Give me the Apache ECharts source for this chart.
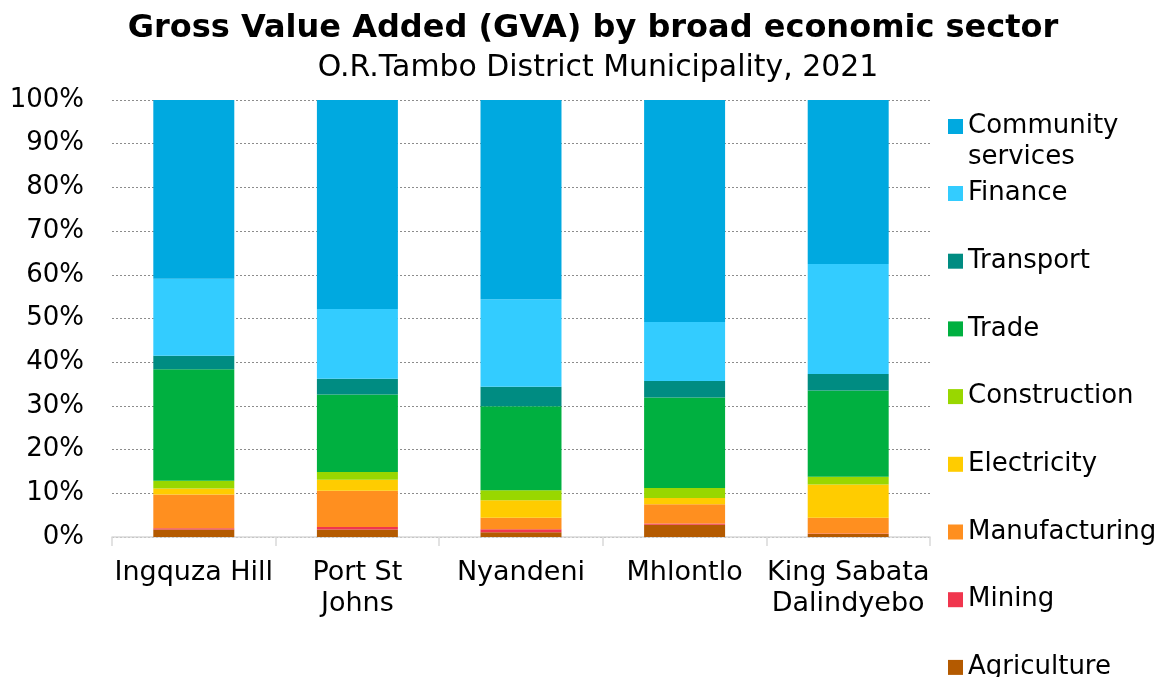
<!DOCTYPE html>
<html>
<head>
<meta charset="utf-8">
<script src="https://cdn.jsdelivr.net/npm/echarts@6/dist/echarts.min.js"></script>
<style>
  html, body { margin: 0; padding: 0; background: #fff; }
  #chart { width: 1160px; height: 677px; }
</style>
</head>
<body>
<div id="chart"></div>
<script>
// municipalities (x axis)
const municipalities = ['Ingquza Hill', 'Port St\nJohns', 'Nyandeni', 'Mhlontlo', 'King Sabata\nDalindyebo'];
const yTicks = [0, 10, 20, 30, 40, 50, 60, 70, 80, 90, 100];

// share of GVA per sector, %, same order as municipalities
const agriculture   = [1.7, 1.7, 1.1, 2.8, 0.7];
const mining        = [0.3, 0.6, 0.7, 0.3, 0.1];
const manufacturing = [7.7, 8.3, 2.6, 4.4, 3.6];
const electricity   = [1.4, 2.5, 4.0, 1.4, 7.6];
const construction  = [1.8, 1.8, 2.3, 2.3, 1.8];
const trade         = [25.5, 17.7, 19.2, 20.7, 19.7];
const transport     = [3.1, 3.6, 4.5, 3.8, 3.8];
const finance       = [17.6, 16.0, 20.0, 13.5, 25.2];
const community     = [40.9, 47.8, 45.6, 50.8, 37.5];

const sectors = [
    {name: 'Agriculture', data: agriculture, color: '#B45A00'},
    {name: 'Mining', data: mining, color: '#F0364E'},
    {name: 'Manufacturing', data: manufacturing, color: '#FF8F1F'},
    {name: 'Electricity', data: electricity, color: '#FFCC00'},
    {name: 'Construction', data: construction, color: '#99D700'},
    {name: 'Trade', data: trade, color: '#00B040'},
    {name: 'Transport', data: transport, color: '#008C82'},
    {name: 'Finance', data: finance, color: '#33CCFF'},
    {name: 'Community services', data: community, color: '#00A9E0'}
];

const font = 'DejaVu Sans, Verdana, sans-serif';
const chart = echarts.init(document.getElementById('chart'), null, {renderer: 'canvas'});

const option = {
    backgroundColor: '#ffffff',
    animation: false,
    title: [
        {
            text: 'Gross Value Added (GVA) by broad economic sector',
            left: 588, top: 6, textAlign: 'center',
            textStyle: {fontFamily: font, fontSize: 32, fontWeight: 'bold', color: '#000', lineHeight: 36}
        },
        {
            text: 'O.R.Tambo District Municipality, 2021',
            left: 593, top: 47, textAlign: 'center',
            textStyle: {fontFamily: font, fontSize: 29.9, fontWeight: 'normal', color: '#000', lineHeight: 32}
        }
    ],
    legend: [
        {
            // two-line entry, first line level with the icon
            orient: 'vertical', left: 948, top: 80, padding: 0,
            itemWidth: 15, itemHeight: 15, icon: 'rect',
            data: ['Community services'],
            formatter: function (n) { return '\n' + n.replace(' ', '\n'); },
            textStyle: {fontFamily: font, fontSize: 26, color: '#000', lineHeight: 31}
        },
        {
            orient: 'vertical', left: 948, top: 178.5, height: 520, padding: 0,
            itemWidth: 15, itemHeight: 15, icon: 'rect', itemGap: 37.7,
            data: ['Finance', 'Transport', 'Trade', 'Construction', 'Electricity', 'Manufacturing', 'Mining', 'Agriculture'],
            textStyle: {fontFamily: font, fontSize: 26, color: '#000', lineHeight: 30}
        }
    ],
    grid: {left: 112, right: 230, top: 100, bottom: 140, containLabel: false},
    xAxis: {
        type: 'category',
        data: municipalities,
        axisLine: {lineStyle: {color: '#d9d9d9', width: 1.5}},
        axisTick: {show: true, length: 9, lineStyle: {color: '#d9d9d9', width: 1.5}},
        axisLabel: {fontFamily: font, fontSize: 27, color: '#000', lineHeight: 31, margin: 20, interval: 0}
    },
    yAxis: {
        type: 'value',
        min: yTicks[0], max: yTicks[yTicks.length - 1], interval: 10,
        axisLine: {show: false},
        axisTick: {show: false},
        axisLabel: {fontFamily: font, fontSize: 26, color: '#000', margin: 28, formatter: '{value}%'},
        splitLine: {lineStyle: {color: '#8c8c8c', type: [2, 2], width: 1}}
    },
    series: sectors.map(function (s) {
        return {
            name: s.name,
            type: 'bar',
            stack: 'gva',
            barWidth: '49.5%',
            data: s.data,
            itemStyle: {color: s.color}
        };
    })
};
chart.setOption(option);
</script>
</body>
</html>
